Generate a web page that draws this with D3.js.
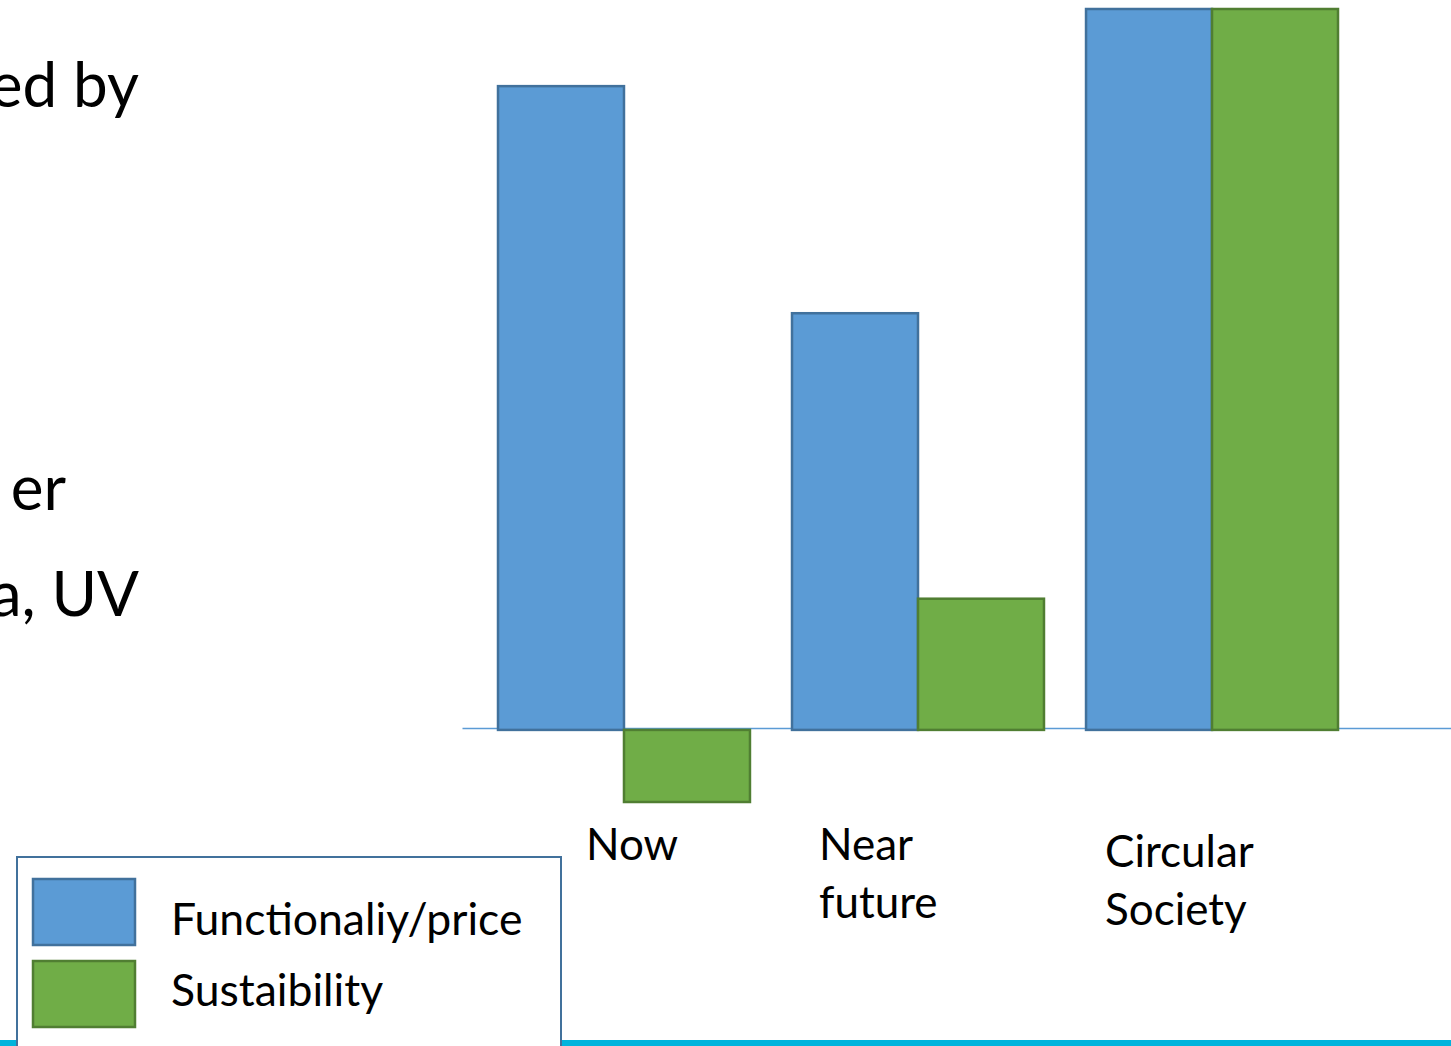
<!DOCTYPE html>
<html>
<head>
<meta charset="utf-8">
<script src="https://cdn.jsdelivr.net/npm/d3@7"></script>
<style>
  html, body { margin: 0; padding: 0; background: #fff; }
  svg { display: block; }
  text { font-family: Lato, "Open Sans", sans-serif; fill: #000; }
</style>
</head>
<body>
<svg id="chart" width="1451" height="1046"></svg>
<script>
// ---- data ----
const categories = ["Now", "Near future", "Circular Society"];
const categoryLabelLines = [["Now"], ["Near", "future"], ["Circular", "Society"]];
const seriesNames = ["Functionaliy/price", "Sustaibility"];
const functionalityValues = [8.93, 5.78, 10];
const sustainabilityValues = [-1.0, 1.82, 10];
const sideTextLines = ["ed by", "er", "a, UV"];

// ---- layout ----
const W = 1451, H = 1046;
const svg = d3.select("#chart");
const colors = ["#5b9bd5", "#70ad47"];
const strokes = ["#41719c", "#507e32"];

const x = d3.scaleBand().domain(categories).range([498, 1338]).paddingInner(0.143).paddingOuter(0);
const xs = d3.scaleBand().domain(seriesNames).range([0, x.bandwidth()]).padding(0);
const y = d3.scaleLinear().domain([-1, 10]).range([802, 9]);

// side text fragments (cut-off slide text)
const sideY = [107, 510, 616];
const sideX = [139, 66, 139];
svg.append("g").selectAll("text").data(sideTextLines).join("text")
  .attr("x", (d, i) => sideX[i]).attr("y", (d, i) => sideY[i])
  .attr("text-anchor", "end")
  .style("font-size", "62px")
  .text(d => d);

// bottom cyan band
svg.append("rect").attr("x", 0).attr("y", 1040).attr("width", W).attr("height", 6).attr("fill", "#00b4dc");

// zero axis line
const axis = d3.axisBottom(d3.scaleLinear().range([462, W])).ticks(0).tickSize(0).tickFormat("");
svg.append("g").attr("transform", `translate(0,${y(0) - 2})`).call(axis)
  .call(g => g.select(".domain").attr("stroke", "#5b9bd5").attr("stroke-width", 1.5));

// bars
const rows = categories.map((c, i) => ({ cat: c, vals: [functionalityValues[i], sustainabilityValues[i]] }));
const grp = svg.append("g").selectAll("g").data(rows).join("g")
  .attr("transform", d => `translate(${x(d.cat)},0)`);
grp.selectAll("rect").data(d => d.vals.map((v, j) => ({ v, s: seriesNames[j], j })))
  .join("rect")
  .attr("x", d => xs(d.s))
  .attr("width", xs.bandwidth())
  .attr("y", d => Math.min(y(d.v), y(0)))
  .attr("height", d => Math.abs(y(d.v) - y(0)))
  .attr("fill", d => colors[d.j])
  .attr("stroke", d => strokes[d.j])
  .attr("stroke-width", 2.5);

// category labels
const labelDx = [88, 27, 19];
const labelY0 = [860, 860, 867];
const lineGap = 58;
svg.append("g").selectAll("text").data(categoryLabelLines).join("text")
  .attr("x", (d, i) => x(categories[i]) + labelDx[i])
  .attr("y", (d, i) => labelY0[i])
  .style("font-size", "44px")
  .each(function (lines, i) {
    d3.select(this).selectAll("tspan").data(lines).join("tspan")
      .attr("x", x(categories[i]) + labelDx[i])
      .attr("dy", (l, k) => k === 0 ? 0 : lineGap)
      .text(l => l);
  });

// legend
const lg = svg.append("g");
lg.append("rect").attr("x", 17).attr("y", 857).attr("width", 544).attr("height", 200)
  .attr("fill", "#fff").attr("stroke", "#41719c").attr("stroke-width", 2);
const legY = [879, 961];
const legTextY = [935, 1006];
seriesNames.forEach((s, j) => {
  lg.append("rect").attr("x", 33).attr("y", legY[j]).attr("width", 102).attr("height", 66)
    .attr("fill", colors[j]).attr("stroke", strokes[j]).attr("stroke-width", 2.5);
  lg.append("text").attr("x", 171).attr("y", legTextY[j]).style("font-size", "44.5px").text(s);
});
</script>
</body>
</html>
